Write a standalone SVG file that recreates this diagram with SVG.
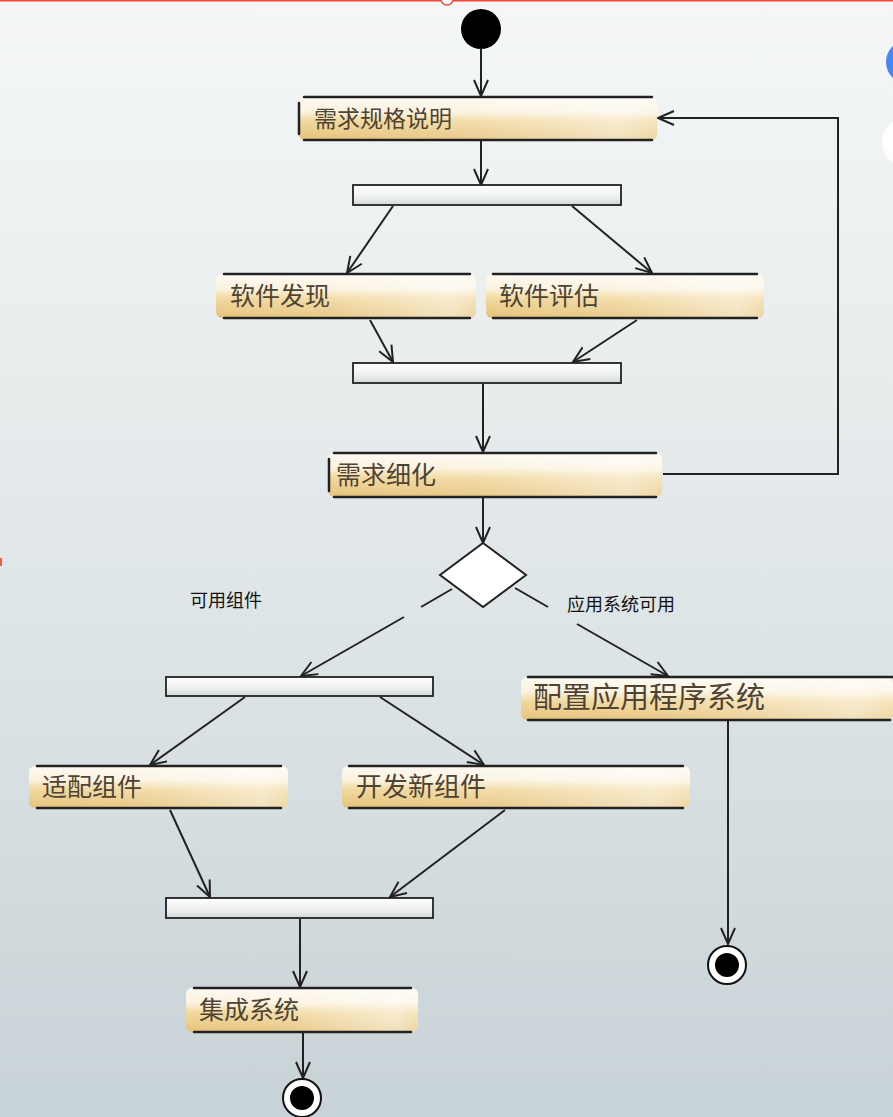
<svg xmlns="http://www.w3.org/2000/svg" width="893" height="1117" viewBox="0 0 893 1117">
<defs>
<linearGradient id="bg" x1="0" y1="0" x2="0" y2="1">
<stop offset="0" stop-color="#f5f7f7"/>
<stop offset="0.45" stop-color="#e3e9ea"/>
<stop offset="1" stop-color="#c8d3d7"/>
</linearGradient>
<linearGradient id="act" x1="0" y1="0" x2="0" y2="1">
<stop offset="0" stop-color="#fdfaf3"/>
<stop offset="0.35" stop-color="#fbf2dd"/>
<stop offset="0.55" stop-color="#f1d9a0"/>
<stop offset="1" stop-color="#e6c27a"/>
</linearGradient>
<linearGradient id="fade" x1="0" y1="0" x2="1" y2="0">
<stop offset="0" stop-color="#ffffff" stop-opacity="0"/>
<stop offset="0.45" stop-color="#ffffff" stop-opacity="0.12"/>
<stop offset="0.9" stop-color="#ffffff" stop-opacity="0.5"/>
<stop offset="1" stop-color="#ffffff" stop-opacity="0.3"/>
</linearGradient>
<linearGradient id="bar" x1="0" y1="0" x2="0" y2="1">
<stop offset="0" stop-color="#ffffff"/>
<stop offset="0.6" stop-color="#eef0f0"/>
<stop offset="1" stop-color="#d2d7d8"/>
</linearGradient>
<marker id="arr" markerUnits="userSpaceOnUse" markerWidth="20" markerHeight="20" viewBox="0 0 20 20" refX="18" refY="10" orient="auto">
<path d="M2,3 L18,10 L2,17" fill="none" stroke="#222" stroke-width="2"/>
</marker>
<style>
.act{fill:url(#act);}
.fd{fill:url(#fade);}
.edge{fill:none;stroke:#222;stroke-width:2.5;stroke-linecap:round;}
.lt{font-family:"Noto Sans CJK SC",sans-serif;font-size:25px;fill:#4f4334;}
.bar{fill:url(#bar);stroke:#222;stroke-width:1.8;}
.con{fill:none;stroke:#222;stroke-width:2;marker-end:url(#arr);}
.ln{fill:none;stroke:#222;stroke-width:2;}
.gl{font-family:"Noto Sans CJK SC",sans-serif;font-size:18px;fill:#111;}
</style>
</defs>
<rect width="893" height="1117" fill="url(#bg)"/>
<line x1="0" y1="0.5" x2="893" y2="0.5" stroke="#f0473a" stroke-width="2"/>
<circle cx="447" cy="-1" r="6" fill="#fff" stroke="#f0473a" stroke-width="1.5"/>
<rect x="0" y="558" width="2" height="8" fill="#f06050"/>
<circle cx="908" cy="62" r="22" fill="#4a84ee"/>
<circle cx="906" cy="142" r="24" fill="#ffffff"/>

<g id="start"><circle cx="481" cy="29" r="20" fill="#000"/></g>

<g id="connectors">
<path class="con" d="M481,49 L481,96"/>
<path class="con" d="M481,141 L481,185"/>
<path class="con" d="M393,206 L347,273"/>
<path class="con" d="M572,206 L652,273"/>
<path class="con" d="M370,320 L393,362"/>
<path class="con" d="M637,320 L573,362"/>
<path class="con" d="M483,384 L483,452"/>
<path class="con" d="M663,474 L838,474 L838,118 L658,118"/>
<path class="con" d="M483,498 L483,543"/>
<path class="ln" d="M452,589 L421,607"/>
<path class="con" d="M404,617 L301,676"/>
<path class="ln" d="M515,588 L548,607"/>
<path class="con" d="M577,624 L668,676"/>
<path class="con" d="M245,697 L150,765"/>
<path class="con" d="M380,697 L484,765"/>
<path class="con" d="M170,810 L210,897"/>
<path class="con" d="M505,810 L390,897"/>
<path class="con" d="M300,919 L300,987"/>
<path class="con" d="M303,1033 L303,1078"/>
<path class="con" d="M728,721 L728,944"/>
</g>

<g id="n1">
<rect class="act" x="299" y="97" width="358" height="43" rx="5"/>
<rect class="fd" x="299" y="97" width="358" height="43" rx="5"/>
<path class="edge" d="M304,97 L652,97 M304,140 L652,140 M299,103 L299,134"/>
<text class="lt" x="314" y="127" style="font-size:23px">需求规格说明</text>
</g>

<g id="bar1"><rect class="bar" x="353" y="185" width="268" height="20"/></g>

<g id="n2">
<rect class="act" x="216" y="274" width="260" height="44" rx="6"/>
<rect class="fd" x="216" y="274" width="260" height="44" rx="6"/>
<path class="edge" d="M224,274 L470,274 M224,318 L470,318"/>
<text class="lt" x="230" y="305">软件发现</text>
</g>

<g id="n3">
<rect class="act" x="486" y="274" width="278" height="44" rx="6"/>
<rect class="fd" x="486" y="274" width="278" height="44" rx="6"/>
<path class="edge" d="M493,274 L757,274 M493,318 L757,318"/>
<text class="lt" x="499" y="305">软件评估</text>
</g>

<g id="bar2"><rect class="bar" x="353" y="363" width="268" height="20"/></g>

<g id="n4">
<rect class="act" x="328" y="453" width="334" height="44" rx="6"/>
<rect class="fd" x="328" y="453" width="334" height="44" rx="6"/>
<path class="edge" d="M334,453 L656,453 M334,497 L656,497 M329,459 L329,491"/>
<text class="lt" x="336" y="484">需求细化</text>
</g>

<g id="decision"><path d="M483,543 L526,575 L483,607 L440,575 Z" fill="#fff" stroke="#222" stroke-width="2"/></g>
<text class="gl" x="190" y="607">可用组件</text>
<text class="gl" x="567" y="611">应用系统可用</text>

<g id="bar3"><rect class="bar" x="166" y="677" width="267" height="19"/></g>

<g id="n5">
<rect class="act" x="521" y="677" width="372" height="43" rx="6"/>
<rect class="fd" x="521" y="677" width="372" height="43" rx="6"/>
<path class="edge" d="M528,677 L893,677 M528,720 L890,720"/>
<text class="lt" x="533" y="708" style="font-size:29px">配置应用程序系统</text>
</g>

<g id="n6">
<rect class="act" x="29" y="766" width="259" height="42" rx="6"/>
<rect class="fd" x="29" y="766" width="259" height="42" rx="6"/>
<path class="edge" d="M37,766 L281,766 M37,808 L281,808"/>
<text class="lt" x="42" y="796">适配组件</text>
</g>

<g id="n7">
<rect class="act" x="342" y="766" width="348" height="42" rx="6"/>
<rect class="fd" x="342" y="766" width="348" height="42" rx="6"/>
<path class="edge" d="M349,766 L683,766 M349,808 L683,808"/>
<text class="lt" x="356" y="796" style="font-size:26px">开发新组件</text>
</g>

<g id="bar4"><rect class="bar" x="166" y="898" width="267" height="20"/></g>

<g id="n8">
<rect class="act" x="186" y="988" width="232" height="44" rx="6"/>
<rect class="fd" x="186" y="988" width="232" height="44" rx="6"/>
<path class="edge" d="M194,988 L411,988 M194,1032 L411,1032"/>
<text class="lt" x="199" y="1019">集成系统</text>
</g>

<g id="end1"><circle cx="302" cy="1098" r="19" fill="#fff" stroke="#111" stroke-width="2"/><circle cx="302" cy="1098" r="12" fill="#000"/></g>
<g id="end2"><circle cx="727" cy="965" r="19" fill="#fff" stroke="#111" stroke-width="2"/><circle cx="727" cy="965" r="12" fill="#000"/></g>
</svg>
